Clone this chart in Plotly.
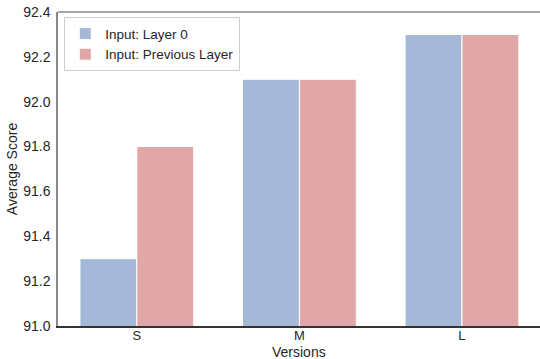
import plotly.graph_objects as go

versions = ["S", "M", "L"]
layer0 = [91.3, 92.1, 92.3]
prev_layer = [91.8, 92.1, 92.3]
yticks = [91.0, 91.2, 91.4, 91.6, 91.8, 92.0, 92.2, 92.4]

fig = go.Figure()
fig.add_trace(go.Bar(x=versions, y=layer0, name="Input: Layer 0",
                     marker=dict(color="rgba(76,114,176,0.5)", line=dict(color="white", width=1))))
fig.add_trace(go.Bar(x=versions, y=prev_layer, name="Input: Previous Layer",
                     marker=dict(color="rgba(196,78,82,0.5)", line=dict(color="white", width=1))))

fig.update_layout(
    width=540, height=359,
    margin=dict(l=58, r=0, t=12, b=33),
    paper_bgcolor="white", plot_bgcolor="white",
    barmode="group", bargap=0.3, bargroupgap=0,
    font=dict(family="Liberation Sans, Arial, sans-serif", size=14, color="#262626"),
    legend=dict(x=0.013, y=0.983, xanchor="left", yanchor="top",
                bgcolor="rgba(255,255,255,0.8)", bordercolor="#d0d0d0", borderwidth=1,
                font=dict(size=13.5), tracegroupgap=0, itemwidth=30),
    showlegend=True,
    shapes=[dict(type="line", xref="paper", yref="paper", x0=0, x1=1, y0=1, y1=1,
                 line=dict(color="#888888", width=1.5))],
    annotations=[dict(text="Versions", xref="paper", yref="paper", x=0.5, y=0,
                      xanchor="center", yanchor="top", yshift=-16, showarrow=False,
                      font=dict(size=14, color="#262626"))],
)
fig.update_xaxes(
    range=[-0.485, 2.48], showline=True, linecolor="#333333", linewidth=1.5,
    ticks="", mirror=False, showgrid=False, ticklen=0, tickfont=dict(size=13),
    ticklabelstandoff=-3,
)
fig.update_yaxes(
    title=dict(text="Average Score", standoff=2, font=dict(size=14)),
    range=[91.0, 92.4], tickvals=yticks, ticktext=[f"{v:.1f}" for v in yticks],
    showline=True, linecolor="#888888", linewidth=1.5, mirror=False,
    ticks="", showgrid=False, zeroline=False, ticklabelstandoff=3,
)
fig.write_html("out.html")
